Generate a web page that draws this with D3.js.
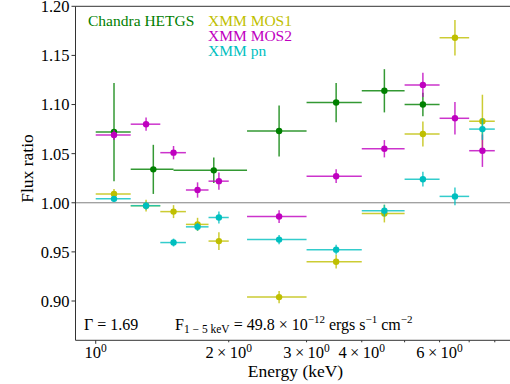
<!DOCTYPE html>
<html>
<head>
<meta charset="utf-8">
<script src="https://cdn.jsdelivr.net/npm/d3@7"></script>
<style>
  body { margin: 0; background: #fff; }
  svg { display: block; font-family: 'Liberation Serif', 'Times New Roman', serif; }
  .tick-label { font-size: 16.5px; fill: #000; }
  .axis-title { font-size: 17.5px; fill: #000; }
</style>
</head>
<body>
<div id="chart"></div>
<script>
// Chandra HETGS bins (keV) and ratios
const chandraLo = [1.0, 1.2, 1.5, 2.2, 3.0, 4.0, 5.0];
const chandraHi = [1.2, 1.5, 2.2, 3.0, 4.0, 5.0, 6.0];
const chandraRatio = [1.072, 1.034, 1.033, 1.073, 1.102, 1.114, 1.100];
const chandraErr = [0.050, 0.025, 0.013, 0.026, 0.020, 0.022, 0.012];

// XMM bins (keV)
const xmmLo = [1.0, 1.2, 1.4, 1.6, 1.8, 2.2, 3.0, 4.0, 5.0, 6.0, 7.0];
const xmmHi = [1.2, 1.4, 1.6, 1.8, 2.0, 3.0, 4.0, 5.0, 6.0, 7.0, 8.0];
const mos1Ratio = [1.009, 0.997, 0.991, 0.978, 0.961, 0.904, 0.940, 0.989, 1.070, 1.168, 1.083];
const mos1Err = [0.005, 0.006, 0.0066, 0.0067, 0.009, 0.0063, 0.007, 0.009, 0.0128, 0.018, 0.027];
const mos2Ratio = [1.069, 1.080, 1.051, 1.013, 1.022, 0.986, 1.027, 1.055, 1.120, 1.086, 1.053];
const mos2Err = [0.005, 0.0068, 0.0068, 0.0078, 0.0088, 0.0065, 0.007, 0.0088, 0.0124, 0.0165, 0.0165];
const pnRatio = [1.004, 0.997, 0.9595, 0.9755, 0.985, 0.9625, 0.9523, 0.992, 1.024, 1.0065, 1.075];
const pnErr = [0.003, 0.004, 0.004, 0.004, 0.006, 0.0048, 0.005, 0.006, 0.0075, 0.009, 0.011];

const yTicks = [0.90, 0.95, 1.00, 1.05, 1.10, 1.15, 1.20];
const xMinorTicks = [2, 3, 4, 5, 6, 7, 8];
const xMinorLabels = [2, 3, 4, 6];

const width = 510, height = 384;
const margin = { top: 6.3, right: -7.4, bottom: 44, left: 75.5 };

const svg = d3.select('#chart').append('svg')
  .attr('width', width)
  .attr('height', height);

const x = d3.scaleLog().domain([0.9, 9]).range([margin.left, width - margin.right]);
const y = d3.scaleLinear().domain([0.86, 1.20]).range([height - margin.bottom + 0.3, margin.top]);

// reference line at 1
svg.append('line')
  .attr('x1', margin.left).attr('x2', width)
  .attr('y1', y(1)).attr('y2', y(1))
  .attr('stroke', '#808080').attr('stroke-width', 1);

const series = [
  { name: 'Chandra HETGS', color: '#008000', lo: chandraLo, hi: chandraHi, v: chandraRatio, e: chandraErr },
  { name: 'XMM MOS1', color: '#bfbf00', lo: xmmLo, hi: xmmHi, v: mos1Ratio, e: mos1Err },
  { name: 'XMM MOS2', color: '#bf00bf', lo: xmmLo, hi: xmmHi, v: mos2Ratio, e: mos2Err },
  { name: 'XMM pn', color: '#00bfbf', lo: xmmLo, hi: xmmHi, v: pnRatio, e: pnErr }
];

series.forEach(s => {
  const pts = s.v.map((v, i) => ({ lo: s.lo[i], hi: s.hi[i], mid: (s.lo[i] + s.hi[i]) / 2, v: v, e: s.e[i] }));
  const g = svg.append('g');
  g.selectAll('line.h').data(pts).enter().append('line')
    .attr('x1', d => x(d.lo)).attr('x2', d => x(d.hi))
    .attr('y1', d => y(d.v)).attr('y2', d => y(d.v))
    .attr('stroke', s.color).attr('stroke-width', 1.5).attr('stroke-opacity', 0.8);
  g.selectAll('line.v').data(pts).enter().append('line')
    .attr('x1', d => x(d.mid)).attr('x2', d => x(d.mid))
    .attr('y1', d => y(d.v - d.e)).attr('y2', d => y(d.v + d.e))
    .attr('stroke', s.color).attr('stroke-width', 1.5).attr('stroke-opacity', 0.8);
  g.selectAll('circle').data(pts).enter().append('circle')
    .attr('cx', d => x(d.mid)).attr('cy', d => y(d.v))
    .attr('r', 3.2).attr('fill', s.color);
});

// spines
const x0 = margin.left, yb = y(0.86), yt = y(1.20);
svg.append('path')
  .attr('d', `M${width},${yt}H${x0}V${yb}H${width}`)
  .attr('fill', 'none').attr('stroke', '#333').attr('stroke-width', 1);

// y axis ticks
yTicks.forEach(t => {
  svg.append('line').attr('x1', x0 - 4).attr('x2', x0).attr('y1', y(t)).attr('y2', y(t))
    .attr('stroke', '#333');
  svg.append('text').attr('class', 'tick-label')
    .attr('x', x0 - 6).attr('y', y(t)).attr('dy', '0.36em')
    .attr('text-anchor', 'end').text(t.toFixed(2));
});

// x axis ticks
svg.append('line').attr('x1', x(1)).attr('x2', x(1)).attr('y1', yb).attr('y2', yb + 3.5).attr('stroke', '#333');
xMinorTicks.forEach(t => {
  svg.append('line').attr('x1', x(t)).attr('x2', x(t)).attr('y1', yb).attr('y2', yb + 2).attr('stroke', '#333');
});

function powLabel(xpos, pre) {
  const t = svg.append('text').attr('class', 'tick-label')
    .attr('x', xpos).attr('y', yb + 18).attr('text-anchor', 'middle');
  t.append('tspan').text(pre + '10');
  t.append('tspan').attr('dy', -6).attr('font-size', 11.5).text('0');
}
powLabel(x(1), '');
xMinorLabels.forEach(t => powLabel(x(t), t + '\u2009×\u2009'));

// axis titles
svg.append('text').attr('class', 'axis-title')
  .attr('x', 295.5).attr('y', 377).attr('text-anchor', 'middle')
  .text('Energy (keV)');
svg.append('text').attr('class', 'axis-title')
  .attr('font-size', 19)
  .attr('transform', 'translate(33,168.5) rotate(-90)')
  .attr('text-anchor', 'middle').text('Flux ratio');

// legend
const legendPos = [[88, 26], [208, 26], [208, 41], [208, 56]];
series.forEach((s, i) => {
  svg.append('text').attr('x', legendPos[i][0]).attr('y', legendPos[i][1])
    .attr('font-size', 15.5).attr('fill', s.color).text(s.name);
});

// annotations
svg.append('text').attr('x', 84).attr('y', 329.5).attr('font-size', 16).text('Γ = 1.69');
const f = svg.append('text').attr('x', 175).attr('y', 329.5).attr('font-size', 16);
f.append('tspan').text('F');
f.append('tspan').attr('dy', 3).attr('font-size', 11.5).text('1 − 5 keV');
f.append('tspan').attr('dy', -3).text(' = 49.8 × 10');
f.append('tspan').attr('dy', -6.5).attr('font-size', 11).text('−12');
f.append('tspan').attr('dy', 6.5).text(' ergs s');
f.append('tspan').attr('dy', -6.5).attr('font-size', 11).text('−1');
f.append('tspan').attr('dy', 6.5).text(' cm');
f.append('tspan').attr('dy', -6.5).attr('font-size', 11).text('−2');
</script>
</body>
</html>
